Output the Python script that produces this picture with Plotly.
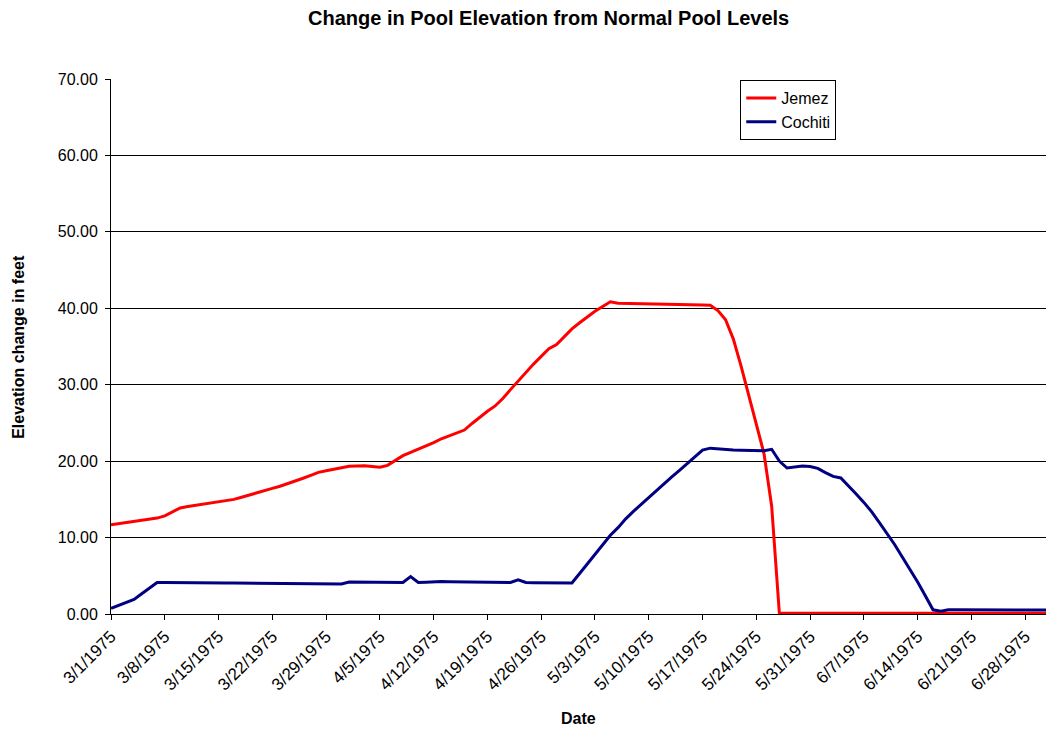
import pandas as pd
import plotly.graph_objects as go

# Daily pool elevation change (feet above normal pool), 3/1/1975 - 7/1/1975
dates = pd.date_range("1975-03-01", "1975-07-01", freq="D")

jemez = [
    11.68, 11.83, 11.97, 12.12, 12.26, 12.40, 12.55, 12.84, 13.38, 13.88,
    14.06, 14.23, 14.41, 14.57, 14.71, 14.86, 15.00, 15.27, 15.54, 15.83,
    16.15, 16.44, 16.72, 17.05, 17.41, 17.76, 18.15, 18.53, 18.74, 18.95,
    19.22, 19.33, 19.37, 19.40, 19.30, 19.20, 19.45, 20.05, 20.72, 21.16,
    21.57, 21.96, 22.42, 22.93, 23.34, 23.68, 24.07, 24.93, 25.78, 26.53,
    27.22, 28.20, 29.36, 30.50, 31.62, 32.70, 33.71, 34.71, 35.27, 36.30,
    37.30, 38.10, 38.90, 39.60, 40.23, 40.85, 40.66, 40.63, 40.61, 40.59,
    40.57, 40.55, 40.53, 40.50, 40.48, 40.46, 40.44, 40.42, 40.40, 39.70,
    38.50, 36.00, 32.50, 28.60, 25.00, 21.00, 14.10, 0.10, 0.10, 0.10,
    0.10, 0.10, 0.10, 0.10, 0.10, 0.10, 0.10, 0.10, 0.10, 0.10,
    0.10, 0.10, 0.10, 0.10, 0.10, 0.10, 0.10, 0.10, 0.10, 0.10,
    0.10, 0.10, 0.10, 0.10, 0.10, 0.10, 0.10, 0.10, 0.10, 0.10,
    0.10, 0.10, 0.10,
]

cochiti = [
    0.74, 1.12, 1.50, 1.90, 2.65, 3.40, 4.13, 4.12, 4.10, 4.10,
    4.09, 4.08, 4.08, 4.07, 4.06, 4.05, 4.05, 4.04, 4.03, 4.02,
    4.01, 4.00, 4.00, 3.99, 3.98, 3.97, 3.96, 3.95, 3.94, 3.93,
    3.93, 4.18, 4.18, 4.17, 4.17, 4.16, 4.16, 4.15, 4.13, 4.90,
    4.13, 4.17, 4.22, 4.25, 4.22, 4.20, 4.18, 4.16, 4.15, 4.15,
    4.14, 4.13, 4.13, 4.48, 4.13, 4.10, 4.08, 4.06, 4.05, 4.05,
    4.05, 5.30, 6.56, 7.80, 9.07, 10.30, 11.30, 12.45, 13.43, 14.35,
    15.26, 16.18, 17.05, 17.93, 18.80, 19.68, 20.55, 21.45, 21.70, 21.60,
    21.50, 21.45, 21.42, 21.40, 21.38, 21.36, 21.55, 20.00, 19.10, 19.20,
    19.35, 19.30, 19.05, 18.50, 18.00, 17.80, 16.80, 15.70, 14.60, 13.40,
    12.00, 10.55, 9.10, 7.45, 5.90, 4.20, 2.40, 0.55, 0.35, 0.55,
    0.55, 0.55, 0.54, 0.54, 0.54, 0.53, 0.53, 0.53, 0.52, 0.52,
    0.52, 0.51, 0.51,
]

series_names = ["Jemez", "Cochiti"]
series_colors = ["#FF0000", "#000080"]

FONT = "Liberation Sans, Arial, sans-serif"

fig = go.Figure()
for name, vals, color in zip(series_names, [jemez, cochiti], series_colors):
    fig.add_trace(go.Scatter(
        x=dates, y=vals, name=name, mode="lines",
        line=dict(color=color, width=3),
    ))

WEEK_MS = 7 * 24 * 3600 * 1000

fig.update_layout(
    width=1046, height=732,
    margin=dict(l=111, r=0, t=79, b=118),
    paper_bgcolor="white", plot_bgcolor="white",
    font=dict(family=FONT, size=16, color="black"),
    showlegend=True,
    legend=dict(
        x=0.673, y=0.998, xanchor="left", yanchor="top",
        bordercolor="black", borderwidth=1, bgcolor="white",
        font=dict(size=16), itemwidth=30, tracegroupgap=0,
    ),
    xaxis=dict(
        type="date",
        range=["1975-03-01", "1975-06-30 17:00"],
        tick0="1975-03-01", dtick=WEEK_MS,
        tickformat="%-m/%-d/%Y", tickangle=-45,
        ticks="outside", ticklen=5, tickcolor="black",
        showline=True, linecolor="black", linewidth=1,
        showgrid=False, zeroline=False,
        tickfont=dict(size=17),
    ),
    yaxis=dict(
        range=[0, 70], dtick=10, tickformat=".2f",
        ticks="outside", ticklen=5, tickcolor="black",
        showline=True, linecolor="black", linewidth=1,
        showgrid=True, gridcolor="black", gridwidth=1,
        zeroline=False, tickfont=dict(size=16),
        ticklabelstandoff=4,
    ),
    annotations=[
        dict(text="<b>Change in Pool Elevation from Normal Pool Levels</b>",
             xref="paper", yref="paper", x=0.4676, y=1.1135,
             xanchor="center", yanchor="middle", showarrow=False,
             font=dict(size=20)),
        dict(text="<b>Elevation change in feet</b>",
             xref="paper", yref="paper", x=-0.0991, y=0.5,
             xanchor="center", yanchor="middle", showarrow=False,
             textangle=-90, font=dict(size=16)),
        dict(text="<b>Date</b>",
             xref="paper", yref="paper", x=0.5, y=-0.1955,
             xanchor="center", yanchor="middle", showarrow=False,
             font=dict(size=16)),
    ],
)

fig.write_html("out.html")
